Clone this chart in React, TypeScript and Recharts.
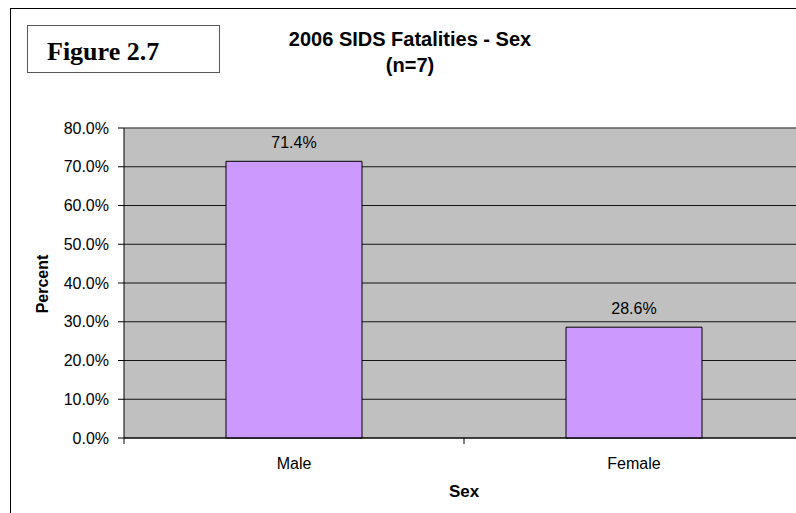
import React from "react";
import {
  BarChart,
  Bar,
  XAxis,
  YAxis,
  CartesianGrid,
  LabelList,
  ReferenceLine,
} from "recharts";

const sexes = ["Male", "Female"];
const percents = [71.4, 28.6];
const yTicks = [0, 10, 20, 30, 40, 50, 60, 70, 80];

const data = sexes.map((sex, i) => ({ sex, percent: percents[i] }));

const FONT = "'Liberation Sans', Arial, sans-serif";
const X_TICK_SIZE = 6;
const X_TICK_MARGIN = 14;

function fmtPct(v: number): string {
  return v.toFixed(1) + "%";
}

// Excel puts category ticks on the band edges, not under the bar centres
function SexTick(props: any) {
  const { x, y, payload } = props;
  const half = payload?.offset ?? 0;
  const axisY = y - X_TICK_SIZE - X_TICK_MARGIN;
  return (
    <g>
      {half > 0 && (
        <line
          x1={x - half}
          x2={x - half}
          y1={axisY}
          y2={axisY + X_TICK_SIZE}
          stroke="#000"
        />
      )}
      <text
        x={x}
        y={y}
        dy="0.71em"
        textAnchor="middle"
        fill="#000"
        fontSize={16}
        fontFamily={FONT}
      >
        {payload.value}
      </text>
    </g>
  );
}

export default function App() {
  return (
    <div
      style={{
        position: "fixed",
        left: 0,
        top: 0,
        width: 796,
        height: 513,
        overflow: "hidden",
        background: "#fff",
        fontFamily: FONT,
      }}
    >
      {/* chart frame, only top and left edges fall inside the picture */}
      <div
        style={{
          position: "absolute",
          left: 10,
          top: 8,
          width: 800,
          height: 520,
          borderTop: "1px solid #000",
          borderLeft: "1px solid #000",
        }}
      />

      <div style={{ position: "absolute", left: 0, top: 0 }}>
        <BarChart
          width={820}
          height={513}
          data={data}
          margin={{ top: 128, right: 16, bottom: 45, left: 64 }}
          barCategoryGap="30%"
        >
          <CartesianGrid
            fill="#C0C0C0"
            stroke="#000"
            vertical={false}
            strokeOpacity={0.9}
          />
          <XAxis
            dataKey="sex"
            height={30}
            tickLine={false}
            axisLine={{ stroke: "#000" }}
            tickSize={X_TICK_SIZE}
            tickMargin={X_TICK_MARGIN}
            tick={<SexTick />}
          />
          <YAxis
            width={60}
            domain={[0, 80]}
            ticks={yTicks}
            tickFormatter={fmtPct}
            axisLine={{ stroke: "#000" }}
            tickLine={{ stroke: "#000" }}
            tickSize={6}
            tickMargin={9}
            tick={{ fill: "#000", fontSize: 16, fontFamily: FONT }}
          />
          <ReferenceLine y={80} stroke="#808080" />
          <Bar
            dataKey="percent"
            fill="#CC99FF"
            stroke="#000"
            strokeWidth={1}
            isAnimationActive={false}
          >
            <LabelList
              dataKey="percent"
              position="top"
              offset={13}
              formatter={(v: any) => fmtPct(Number(v))}
              style={{ fill: "#000", fontSize: 16, fontFamily: FONT }}
            />
          </Bar>
        </BarChart>
      </div>

      {/* figure number box */}
      <div
        style={{
          position: "absolute",
          left: 27,
          top: 25,
          width: 191,
          height: 46,
          border: "1px solid #555",
        }}
      />
      <div
        style={{
          position: "absolute",
          left: 47,
          top: 39,
          fontFamily: "'Liberation Serif', 'Times New Roman', serif",
          fontWeight: "bold",
          fontSize: 26,
          lineHeight: "26px",
          whiteSpace: "nowrap",
        }}
      >
        Figure 2.7
      </div>

      {/* title */}
      <div
        style={{
          position: "absolute",
          left: 210,
          width: 400,
          top: 26,
          textAlign: "center",
          fontWeight: "bold",
          fontSize: 20,
          lineHeight: "26px",
        }}
      >
        <div>2006 SIDS Fatalities - Sex</div>
        <div>(n=7)</div>
      </div>

      {/* axis titles */}
      <div
        style={{
          position: "absolute",
          left: 43,
          top: 284,
          transform: "translate(-50%, -50%) rotate(-90deg)",
          fontWeight: "bold",
          fontSize: 16,
          whiteSpace: "nowrap",
        }}
      >
        Percent
      </div>
      <div
        style={{
          position: "absolute",
          left: 364,
          width: 200,
          top: 482,
          textAlign: "center",
          fontWeight: "bold",
          fontSize: 17,
          lineHeight: "20px",
        }}
      >
        Sex
      </div>
    </div>
  );
}
